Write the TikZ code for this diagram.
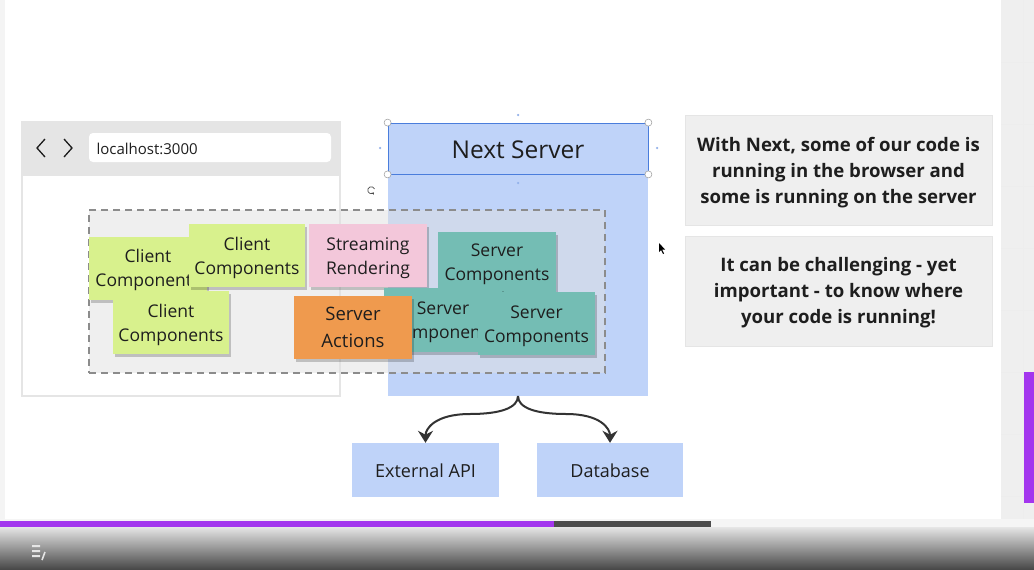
\documentclass[tikz,border=0pt]{standalone}
\usepackage{fontspec}
\setmainfont{Open Sans}
\usetikzlibrary{shadows,arrows.meta}
\definecolor{lime}{HTML}{D8F18D}
\definecolor{pinkc}{HTML}{F3C7DA}
\definecolor{orangec}{HTML}{EF9A4E}
\definecolor{teal2}{HTML}{74BDB4}
\definecolor{blue1}{HTML}{BFD3F9}
\definecolor{blueline}{HTML}{4A7DDC}
\definecolor{greybg}{HTML}{EFEFEF}
\definecolor{greyhead}{HTML}{E5E5E5}
\definecolor{textc}{HTML}{1E1E1E}
\definecolor{purplec}{HTML}{A336EE}
\newcommand{\mytop}{\rule{0pt}{17.5pt}}
\newcommand{\mybot}{\rule[-4.5pt]{0pt}{0pt}}
\tikzset{
  sticky/.style={inner sep=0pt, align=center, text=textc,
    minimum width=118pt, minimum height=63pt,
    font=\fontsize{17.5}{24}\selectfont,
    drop shadow={shadow xshift=1.5pt, shadow yshift=-3pt, opacity=.2, fill=black}},
  bluebox/.style={fill=blue1, inner sep=0pt, text=textc, font=\fontsize{18}{22}\selectfont},
  infobox/.style={fill=greybg, draw=greyhead, line width=1pt, inner sep=0pt, align=center,
    text=textc, minimum width=307pt, minimum height=110pt,
    font=\bfseries\fontsize{18.6}{26}\selectfont},
  handle/.style={circle, fill=white, draw=gray!70, line width=0.6pt, inner sep=0pt, minimum size=7pt},
  tinydot/.style={circle, fill=blueline!60, inner sep=0pt, minimum size=2.5pt},
  flow/.style={draw=black!80, line width=2pt, -{Stealth[length=12pt,width=15pt]}},
}
\begin{document}
\begin{tikzpicture}[x=1pt,y=-1pt]
\useasboundingbox (0,0) rectangle (1034,570);
\fill[white] (0,0) rectangle (1034,570);
% side strips
\fill[greybg!70] (0,0) rectangle (5,527);
\fill[greybg] (1001,0) rectangle (1034,527);
\foreach \yy in {62,124,186,248,310,372,434,496} \draw[greyhead!70, line width=0.5pt] (1001,\yy) -- (1034,\yy);
\draw[greyhead!70, line width=0.5pt] (1023,0) -- (1023,527);
\fill[purplec] (1024,372) rectangle (1034,503);

% browser
\node[draw=greyhead, line width=1.5pt, fill=white, minimum width=318pt, minimum height=274pt, inner sep=0pt] (browser) at (181,259) {};
\fill[greyhead] (22,122) rectangle (340,176);
\node[fill=white, rounded corners=4pt, minimum width=242pt, minimum height=29pt, inner sep=0pt] (url) at (210,147.5) {};
\node[anchor=west, text=textc, font=\fontsize{15}{18}\selectfont] (urltext) at (93,149) {localhost:3000};
\draw[textc, line width=1.3pt, line join=miter] (45,139) -- (37,148) -- (45,157);
\draw[textc, line width=1.3pt, line join=miter] (64,139) -- (72,148) -- (64,157);

% next server column
\node[fill=blue1, minimum width=260pt, minimum height=273pt, inner sep=0pt] (server) at (518,259.5) {};
\node[draw=blueline, line width=0.8pt, fill=blue1, minimum width=260pt, minimum height=51pt, inner sep=0pt, text=textc, font=\fontsize{24.5}{28}\selectfont] (nexthead) at (518,148.5) {\rule{0pt}{20pt}Next Server};
\node[handle] (h1) at (nexthead.north west) {};
\node[handle] (h2) at (nexthead.north east) {};
\node[handle] (h3) at (nexthead.south west) {};
\node[handle] (h4) at (nexthead.south east) {};
\node[tinydot] (d1) at (518,115) {};
\node[tinydot] (d2) at (380,148) {};
\node[tinydot] (d3) at (657,148) {};
\node[tinydot] (d4) at (518,183) {};
\draw[black!70, line width=0.7pt, -{Stealth[length=2pt,width=3pt]}] (374.5,189) arc[start angle=20, end angle=320, radius=3.5pt];

% dashed region
\node[fill=black!12, fill opacity=0.5, draw=black!45, dash pattern=on 7pt off 5pt, line width=1.5pt, minimum width=516pt, minimum height=163pt, inner sep=0pt] (region) at (347,291.5) {};

% stickies
\node[sticky, fill=lime] (c1) at (148,268) {\mytop Client\\Components\mybot};
\node[sticky, fill=lime, minimum width=116pt] (c2) at (247,255.5) {\mytop Client\\Components\mybot};
\node[sticky, fill=lime, minimum width=116pt] (c3) at (171,322.5) {\mytop Client\\Components\mybot};
\node[sticky, fill=pinkc] (stream) at (368,255.5) {\mytop Streaming\\Rendering\mybot};
\node[sticky, fill=teal2, minimum height=60pt] (s1) at (497,261.5) {\mytop Server\\Components\mybot};
\node[sticky, fill=teal2, minimum height=64pt] (s2) at (443,320) {\mytop Server\\Components\mybot};
\node[sticky, fill=orangec, font=\fontsize{18.5}{27}\selectfont] (actions) at (353,327.5) {\mytop Server\\Actions\mybot};
\node[sticky, fill=teal2, minimum width=117pt] (s3) at (536.5,323.5) {\mytop Server\\Components\mybot};

% targets
\node[bluebox, minimum width=147pt, minimum height=54pt] (api) at (425.5,470) {\rule{0pt}{15pt}External API};
\node[bluebox, minimum width=146pt, minimum height=54pt] (db) at (610,470) {\rule{0pt}{15pt}Database};

\coordinate (fork) at (518,396);
\draw[flow] (fork) .. controls +(0,12) and +(30,0) .. (470,414) .. controls +(-35,0) and +(0,-14) .. (api.north);
\draw[flow] (fork) .. controls +(0,12) and +(-30,0) .. (566,414) .. controls +(35,0) and +(0,-14) .. (db.north);

% cursor
\fill[black] (659,243) -- (659,252) -- (661,250) -- (663,254) -- (664,253.5) -- (662,249.5) -- (665,249.5) -- cycle;

% info boxes
\node[infobox] (info1) at (838.5,170.5) {\rule{0pt}{18.5pt}With Next, some of our code is\\running in the browser and\\some is running on the server\rule[-5.5pt]{0pt}{0pt}};
\node[infobox] (info2) at (838.5,291) {\rule{0pt}{18.5pt}It can be challenging - yet\\important - to know where\\your code is running!\rule[-5.5pt]{0pt}{0pt}};

% video controls
\fill[greybg!60] (0,519) rectangle (1034,527);
\fill[black!55!gray!90] (554,521) rectangle (711,527);
\fill[purplec] (0,521) rectangle (554,527);
\shade[top color=black!10, bottom color=black!73] (0,527) rectangle (1034,570);
\fill[white!90!black] (32,545) rectangle (40,547) (32,550) rectangle (40,552) (32,555) rectangle (40,557);
\draw[white!90!black, line width=1.6pt] (42,560) -- (45,552);
\end{tikzpicture}
\end{document}
